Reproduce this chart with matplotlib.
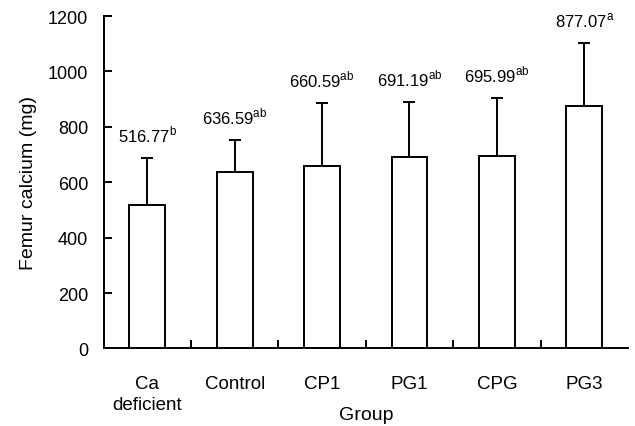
import matplotlib
matplotlib.use("Agg")
import matplotlib.pyplot as plt
import numpy as np

plt.rcParams['font.family'] = ['Liberation Sans', 'DejaVu Sans']
plt.rcParams['mathtext.fontset'] = 'custom'
plt.rcParams['mathtext.rm'] = 'Liberation Sans'

groups = ["Ca\ndeficient", "Control", "CP1", "PG1", "CPG", "PG3"]
means = [516.77, 636.59, 660.59, 691.19, 695.99, 877.07]
errors = [170, 115, 225, 197, 209, 224]
letters = ["b", "ab", "ab", "ab", "ab", "a"]
yticks = [0, 200, 400, 600, 800, 1000, 1200]

fig = plt.figure(figsize=(6.35, 4.27), dpi=100)
ax = fig.add_axes([0.163, 0.1815, 0.826, 0.7785])

x = np.arange(len(groups))
ax.bar(x, means, width=0.41, color='white', edgecolor='black', linewidth=1.4, zorder=2)
ax.errorbar(x, means, yerr=[np.zeros(len(means)), errors], fmt='none',
            ecolor='black', elinewidth=1.4, capsize=4, capthick=1.4, zorder=1)

for xi, m, e, l in zip(x, means, errors, letters):
    ax.annotate(f"{m:.2f}$^{{\\mathrm{{{l}}}}}$", (xi, m + e), xytext=(0, 10),
                textcoords='offset points', ha='center', va='bottom', fontsize=12)

ax.set_xlim(-0.5, 5.5)
ax.set_ylim(0, 1200)
ax.set_yticks(yticks)
ax.set_yticklabels([str(v) for v in yticks], fontsize=13)
ax.set_xticks(x)
ax.set_xticklabels(groups, fontsize=13.5, linespacing=1.3)
ax.tick_params(axis='x', length=0, pad=19)
ax.set_xticks(np.arange(0.5, 5.0, 1.0), minor=True)
ax.tick_params(axis='x', which='minor', direction='in', length=6, width=1.4)
ax.tick_params(axis='y', direction='in', length=6, width=1.4, pad=11)

for s in ['top', 'right']:
    ax.spines[s].set_visible(False)
for s in ['left', 'bottom']:
    ax.spines[s].set_linewidth(1.4)

ax.set_ylabel("Femur calcium (mg)", fontsize=14, labelpad=8)
ax.set_xlabel("Group", fontsize=14, va='center')
ax.xaxis.set_label_coords(0.5, -0.2)

fig.savefig("out.png", dpi=100)
